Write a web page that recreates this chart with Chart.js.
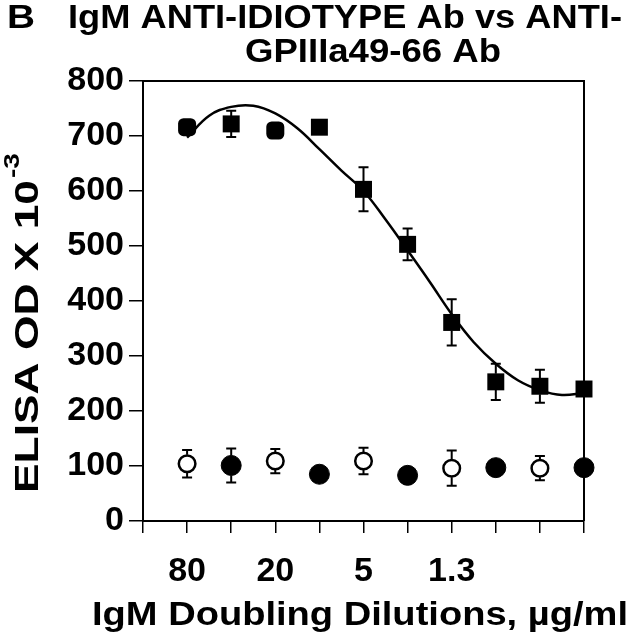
<!DOCTYPE html>
<html><head><meta charset="utf-8">
<script src="https://cdn.jsdelivr.net/npm/chart.js@4/dist/chart.umd.min.js"></script>
<style>html,body{margin:0;padding:0;background:#fff;}</style>
</head><body>
<canvas id="c" width="632" height="640"></canvas>
<script>
// ---- data ----
const squareX = [1, 2, 3, 4, 5, 6, 7, 8, 9, 10];
const squareValues = [716, 722, 710, 716, 603, 503, 361, 253, 245, 240];
const squareErrors = [8, 24, 8, 0, 40, 29, 42, 33, 30, 0];

const openX = [1, 3, 5, 7, 9];
const openValues = [104, 109, 109, 96, 96];
const openErrors = [25, 22, 24, 32, 22];

const filledX = [2, 4, 6, 8, 10];
const filledValues = [101, 85, 83, 97, 97];
const filledErrors = [31, 0, 0, 0, 0];

const curveX = [1, 1.5, 2, 2.5, 3, 3.5, 4, 4.5, 5, 5.5, 6, 6.5, 7, 7.5, 8, 8.5, 9, 9.5, 10];
const curveValues = [697, 737, 753, 755, 741, 714, 676, 637, 600, 548, 492, 435, 376, 325, 286, 256, 238, 229, 233];

const xTickPositions = [1, 3, 5, 7];
const xTickLabels = ['80', '20', '5', '1.3'];
const yTicks = [0, 100, 200, 300, 400, 500, 600, 700, 800];

const titleLines = ['IgM ANTI-IDIOTYPE Ab vs ANTI-', 'GPIIIa49-66 Ab'];
const panelLetter = 'B';
const xTitle = 'IgM Doubling Dilutions, \u00B5g/ml';
const yTitleMain = 'ELISA OD X 10';
const yTitleSup = '-3';

// ---- helpers ----
const FONT = '"Liberation Sans", Arial, Helvetica, sans-serif';
const toPts = (xs, ys) => xs.map((x, i) => ({x: x, y: ys[i]}));

function fitText(ctx, text, x, y, width, size) {
  ctx.save();
  ctx.font = 'bold ' + size + 'px ' + FONT;
  const w = ctx.measureText(text).width;
  ctx.translate(x, y);
  ctx.scale(width / w, 1);
  ctx.textAlign = 'left';
  ctx.textBaseline = 'alphabetic';
  ctx.fillStyle = '#000';
  ctx.fillText(text, 0, 0);
  ctx.restore();
}

const errorBarPlugin = {
  id: 'errorBars',
  afterDatasetsDraw(chart) {
    const ctx = chart.ctx, xs = chart.scales.x, ys = chart.scales.y;
    chart.data.datasets.forEach((ds) => {
      if (!ds.errors) return;
      ctx.save();
      ctx.strokeStyle = '#000';
      ctx.lineWidth = 2;
      ds.data.forEach((p, i) => {
        const e = ds.errors[i];
        if (!e) return;
        const px = xs.getPixelForValue(p.x);
        const top = ys.getPixelForValue(p.y + e);
        const bot = ys.getPixelForValue(p.y - e);
        const cy = ys.getPixelForValue(p.y);
        const r = ds.markerHalf || 8;
        ctx.beginPath();
        ctx.moveTo(px, top); ctx.lineTo(px, Math.min(bot, cy - r));
        ctx.moveTo(px, Math.max(top, cy + r)); ctx.lineTo(px, bot);
        ctx.moveTo(px - 5, top); ctx.lineTo(px + 5, top);
        ctx.moveTo(px - 5, bot); ctx.lineTo(px + 5, bot);
        ctx.stroke();
      });
      ctx.restore();
    });
  }
};

const framePlugin = {
  id: 'frame',
  beforeDatasetsDraw(chart) {
    const {ctx, chartArea: a} = chart;
    ctx.save();
    ctx.strokeStyle = '#000';
    ctx.lineWidth = 2;
    ctx.beginPath();
    ctx.moveTo(a.left, a.top); ctx.lineTo(a.right, a.top); ctx.lineTo(a.right, a.bottom);
    ctx.stroke();
    ctx.restore();
  }
};

const textPlugin = {
  id: 'texts',
  afterDraw(chart) {
    const ctx = chart.ctx;
    fitText(ctx, panelLetter, 7, 28, 28, 34);
    fitText(ctx, titleLines[0], 68, 28, 554, 34);
    fitText(ctx, titleLines[1], 245, 62, 256, 34);
    fitText(ctx, xTitle, 92, 625, 536, 34);
    ctx.save();
    ctx.translate(38, 493);
    ctx.rotate(-Math.PI / 2);
    fitText(ctx, yTitleMain, 0, 0, 313, 33);
    fitText(ctx, yTitleSup, 315, -19, 25, 22);
    ctx.restore();
  }
};

new Chart(document.getElementById('c'), {
  type: 'scatter',
  data: {
    datasets: [
      {
        label: 'fit',
        data: toPts(curveX, curveValues),
        showLine: true,
        borderColor: '#000',
        borderWidth: 2.5,
        pointRadius: 0,
        tension: 0.4,
        fill: false,
        clip: false
      },
      {
        label: 'IgM anti-idiotype',
        data: toPts(squareX, squareValues),
        errors: squareErrors,
        markerHalf: 8,
        pointStyle: ['rectRounded', 'rect', 'rectRounded', 'rect', 'rect', 'rect', 'rect', 'rect', 'rect', 'rect'],
        pointRadius: [10.5, 12, 10.5, 12, 12, 12, 12, 12, 12, 12],
        backgroundColor: '#000',
        borderColor: '#000',
        borderWidth: 0,
        clip: false
      },
      {
        label: 'open',
        data: toPts(openX, openValues),
        errors: openErrors,
        markerHalf: 9,
        pointStyle: 'circle',
        pointRadius: 8.3,
        backgroundColor: '#fff',
        borderColor: '#000',
        borderWidth: 2.5,
        clip: false
      },
      {
        label: 'filled',
        data: toPts(filledX, filledValues),
        errors: filledErrors,
        markerHalf: 10,
        pointStyle: 'circle',
        pointRadius: 10,
        backgroundColor: '#000',
        borderColor: '#000',
        borderWidth: 1,
        clip: false
      }
    ]
  },
  options: {
    responsive: false,
    animation: false,
    events: [],
    layout: {padding: {left: 0, right: 48, top: 81, bottom: 0}},
    plugins: {legend: {display: false}, tooltip: {enabled: false}, title: {display: false}},
    scales: {
      x: {
        type: 'linear',
        min: 0, max: 10,
        afterFit(s) { s.height = 119; },
        afterBuildTicks(s) { s.ticks = [0,1,2,3,4,5,6,7,8,9,10].map(v => ({value: v})); },
        ticks: {
          autoSkip: false, maxRotation: 0, minRotation: 0,
          padding: 18,
          color: '#000',
          font: {family: FONT, size: 34, weight: 'bold'},
          callback(v) { const k = xTickPositions.indexOf(v); return k >= 0 ? xTickLabels[k] : ''; }
        },
        grid: {drawOnChartArea: false, drawTicks: true, tickLength: 12, color: '#000', lineWidth: 1.5},
        border: {display: true, color: '#000', width: 2}
      },
      y: {
        min: 0, max: 800,
        afterFit(s) { s.width = 143; },
        afterBuildTicks(s) { s.ticks = yTicks.map(v => ({value: v})); },
        ticks: {
          padding: 5,
          color: '#000',
          font: {family: FONT, size: 34, weight: 'bold'}
        },
        grid: {drawOnChartArea: false, drawTicks: true, tickLength: 14, color: '#000', lineWidth: 1.5},
        border: {display: true, color: '#000', width: 2}
      }
    }
  },
  plugins: [framePlugin, errorBarPlugin, textPlugin]
});
</script>
</body></html>
